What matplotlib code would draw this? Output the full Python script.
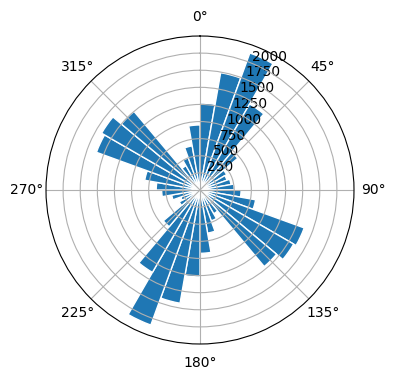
import numpy as np
import matplotlib
matplotlib.use("Agg")
import matplotlib.pyplot as plt

# direction bins: 10 degrees each, starting at north, going clockwise
bin_start_deg = np.arange(0, 360, 10)
counts = [
    1270, 1740, 2130, 1450, 720, 450, 420, 460, 500,   # 0 - 90
    600, 825, 1620, 1580, 1460, 400, 480, 640, 925,    # 90 - 180
    1270, 1680, 2100, 1390, 700, 350, 300, 420, 560,   # 180 - 270
    640, 820, 1610, 1660, 1500, 410, 500, 655, 950,    # 270 - 360
]
r_ticks = [250, 500, 750, 1000, 1250, 1500, 1750, 2000]

fig = plt.figure(figsize=(3.96, 3.8), dpi=100)
ax = fig.add_axes([46 / 396, 36 / 380, 308 / 396, 308 / 380], projection='polar')
ax.set_theta_zero_location('N')
ax.set_theta_direction(-1)

ax.bar(np.deg2rad(bin_start_deg), counts, width=np.deg2rad(10),
       align='edge', color='C0', edgecolor='white', linewidth=1)

ax.set_ylim(0, 2250)
ax.set_yticks(r_ticks)

fig.savefig('out.png', dpi=100)
